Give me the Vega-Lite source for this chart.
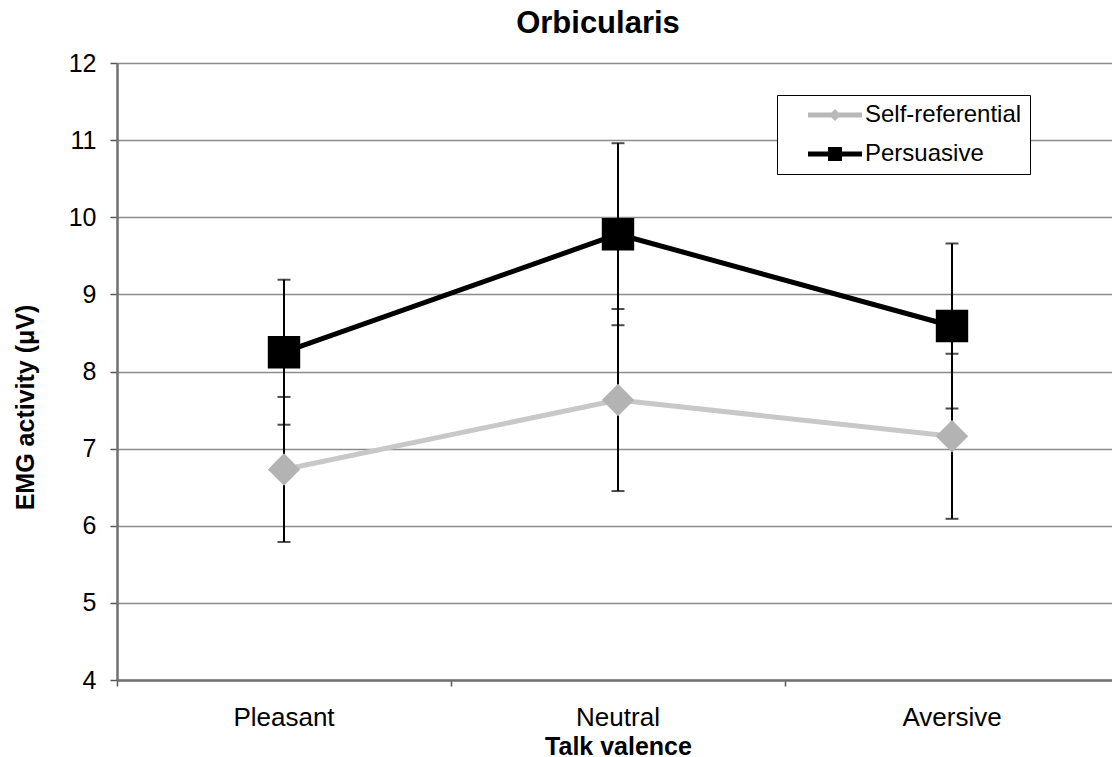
{
  "$schema": "https://vega.github.io/schema/vega-lite/v6.json",
  "width": 1002,
  "height": 617,
  "autosize": "none",
  "padding": {"left": 117, "top": 63, "right": 0, "bottom": 77},
  "background": "white",
  "title": {
    "text": "Orbicularis",
    "anchor": "middle",
    "frame": "group",
    "dx": -20,
    "offset": -13,
    "baseline": "alphabetic",
    "font": "Liberation Sans",
    "fontSize": 31,
    "fontWeight": "bold",
    "color": "black"
  },
  "config": {
    "font": "Liberation Sans",
    "view": {"stroke": null}
  },
  "data": {
    "values": [
      {"series": "Self-referential", "valence": "Pleasant", "mean": 6.73, "lo": 5.79, "hi": 7.67},
      {"series": "Self-referential", "valence": "Neutral", "mean": 7.63, "lo": 6.45, "hi": 8.81},
      {"series": "Self-referential", "valence": "Aversive", "mean": 7.16, "lo": 6.09, "hi": 8.23},
      {"series": "Persuasive", "valence": "Pleasant", "mean": 8.25, "lo": 7.31, "hi": 9.19},
      {"series": "Persuasive", "valence": "Neutral", "mean": 9.78, "lo": 8.6, "hi": 10.96},
      {"series": "Persuasive", "valence": "Aversive", "mean": 8.59, "lo": 7.52, "hi": 9.66}
    ]
  },
  "encoding": {
    "x": {
      "field": "valence",
      "type": "nominal",
      "sort": ["Pleasant", "Neutral", "Aversive"],
      "scale": {"paddingInner": 0, "paddingOuter": 0},
      "axis": {
        "title": "Talk valence",
        "titleFont": "Liberation Sans",
        "titleFontSize": 25,
        "titleFontWeight": "bold",
        "titleColor": "black",
        "titleBaseline": "alphabetic",
        "titleY": 74,
        "labelAngle": 0,
        "labelFontSize": 26,
        "labelColor": "black",
        "labelPadding": 18,
        "bandPosition": 0,
        "tickSize": 6,
        "tickColor": "#555555",
        "tickWidth": 1.5,
        "domainColor": "#707070",
        "domainWidth": 2.5,
        "grid": false
      }
    }
  },
  "layer": [
    {
      "mark": {"type": "rule", "color": "black", "strokeWidth": 2},
      "encoding": {
        "y": {
          "field": "lo",
          "type": "quantitative",
          "scale": {"domain": [4, 12], "nice": false, "zero": false},
          "axis": {
            "title": "EMG activity (μV)",
            "titleFont": "Liberation Sans",
            "titleFontSize": 25,
            "titleFontWeight": "bold",
            "titleColor": "black",
            "titleAngle": 270,
            "titleAlign": "center",
            "titleBaseline": "middle",
            "titleX": -92,
            "titleY": 344,
            "values": [4, 5, 6, 7, 8, 9, 10, 11, 12],
            "format": "d",
            "labelFontSize": 25,
            "labelColor": "black",
            "labelPadding": 14,
            "tickSize": 7,
            "tickColor": "#555555",
            "tickWidth": 1.5,
            "domainColor": "#707070",
            "domainWidth": 2.5,
            "grid": true,
            "gridColor": "#8c8c8c",
            "gridWidth": 1.5
          }
        },
        "y2": {"field": "hi"}
      }
    },
    {
      "mark": {"type": "tick", "color": "black", "thickness": 2, "size": 13},
      "encoding": {"y": {"field": "lo", "type": "quantitative"}}
    },
    {
      "mark": {"type": "tick", "color": "black", "thickness": 2, "size": 13},
      "encoding": {"y": {"field": "hi", "type": "quantitative"}}
    },
    {
      "mark": {"type": "line", "strokeWidth": 5},
      "encoding": {
        "y": {"field": "mean", "type": "quantitative"},
        "detail": {"field": "series"},
        "color": {
          "condition": {"test": "datum.series === 'Persuasive'", "value": "#000000"},
          "value": "#c8c8c8"
        }
      }
    },
    {
      "mark": {"type": "point", "filled": true, "size": 1050, "opacity": 1},
      "encoding": {
        "y": {"field": "mean", "type": "quantitative"},
        "color": {
          "condition": {"test": "datum.series === 'Persuasive'", "value": "#000000"},
          "value": "#b3b3b3"
        },
        "shape": {
          "condition": {"test": "datum.series === 'Persuasive'", "value": "square"},
          "value": "diamond"
        }
      }
    },
    {
      "transform": [{"filter": "false"}],
      "mark": {"type": "point", "filled": true, "opacity": 1},
      "encoding": {
        "y": {"field": "mean", "type": "quantitative"},
        "color": {
          "field": "series",
          "type": "nominal",
          "scale": {"domain": ["Self-referential", "Persuasive"], "range": ["#b8b8b8", "#000000"]},
          "legend": {
            "title": null,
            "orient": "none",
            "legendX": 660,
            "legendY": 32,
            "strokeColor": "black",
            "fillColor": "white",
            "padding": 8,
            "rowPadding": 15,
            "labelFont": "Liberation Sans",
            "labelFontSize": 24,
            "labelColor": "black",
            "labelOffset": 56,
            "labelLimit": 400,
            "symbolSize": 400,
            "symbolStrokeWidth": 0,
            "symbolOpacity": 1
          }
        },
        "shape": {
          "field": "series",
          "type": "nominal",
          "scale": {
            "domain": ["Self-referential", "Persuasive"],
            "range": [
              "M-1,0M1.1,-0.25H6.5V0.25H1.1Z M3.2,0L3.8,-0.6L4.4,0L3.8,0.6Z",
              "M-1,0M1.1,-0.25H6.5V0.25H1.1Z M3.1,-0.7H4.5V0.7H3.1Z"
            ]
          },
          "legend": {
            "title": null,
            "orient": "none",
            "legendX": 660,
            "legendY": 32
          }
        }
      }
    }
  ]
}
